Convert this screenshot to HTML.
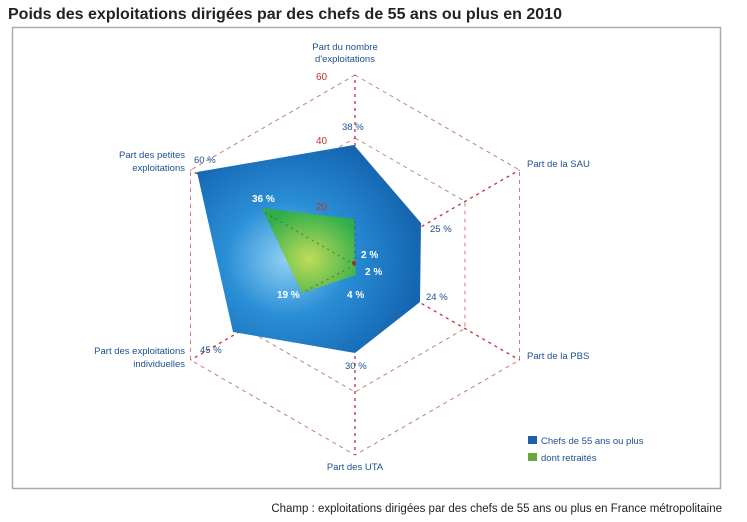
<!DOCTYPE html>
<html><head><meta charset="utf-8"><style>
html,body{margin:0;padding:0;background:#fff;width:747px;height:522px;overflow:hidden}
</style></head><body>
<svg width="747" height="522" viewBox="0 0 747 522" xmlns="http://www.w3.org/2000/svg" font-family="Liberation Sans, sans-serif">
<defs>
<radialGradient id="bg" cx="0.4" cy="0.55" r="0.6">
<stop offset="0" stop-color="#8fd0f4"/><stop offset="0.45" stop-color="#2a8fd6"/><stop offset="1" stop-color="#1565b0"/>
</radialGradient>
<radialGradient id="gg" cx="0.5" cy="0.6" r="0.6">
<stop offset="0" stop-color="#c0dc5a"/><stop offset="1" stop-color="#2fae4a"/>
</radialGradient>
</defs>
<text x="8" y="19" font-size="16" font-weight="bold" fill="#222">Poids des exploitations dirigées par des chefs de 55 ans ou plus en 2010</text>
<rect x="12.5" y="27.5" width="708" height="461" fill="#fff" stroke="#aaa" stroke-width="1.5"/>
<g fill="none" stroke="#c08080" stroke-width="1" stroke-dasharray="4,4">
<polygon points="355,75 519.5,170 519.5,360 355,455 190.5,360 190.5,170"/>
<polygon points="355,138 465,201.5 465,328.5 355,392 245,328.5 245,201.5"/>
<polygon points="355,202 409.5,233.5 409.5,296.5 355,328 300.5,296.5 300.5,233.5"/>
</g>
<g stroke="#c0303a" stroke-width="1.3" stroke-dasharray="3,4" fill="none">
<line x1="355" y1="265" x2="355" y2="75"/><line x1="355" y1="265" x2="519.5" y2="170"/>
<line x1="355" y1="265" x2="519.5" y2="360"/><line x1="355" y1="265" x2="355" y2="455"/>
<line x1="355" y1="265" x2="190.5" y2="360"/><line x1="355" y1="265" x2="190.5" y2="170"/>
</g>
<polygon points="197,172 354,145 421,223 420,302 355,353 233,332" fill="url(#bg)"/>
<polygon points="262,208 354,219 355,262 356,275 302,293" fill="url(#gg)"/>
<g stroke="#7a3a30" stroke-width="1.3" stroke-dasharray="2,4" fill="none" opacity="0.6">
<line x1="355" y1="265" x2="355" y2="219"/><line x1="355" y1="265" x2="262" y2="211"/>
<line x1="355" y1="265" x2="302" y2="293"/>
</g>
<g font-size="10" fill="#c0303a" font-family="Liberation Sans Narrow, Liberation Sans, sans-serif">
<text x="316" y="80">60</text><text x="316" y="144">40</text><text x="316" y="210">20</text>
</g>
<g font-size="9.5" fill="#1e4f90" font-family="Liberation Sans Narrow, Liberation Sans, sans-serif">
<text x="345" y="50" text-anchor="middle">Part du nombre</text>
<text x="345" y="62" text-anchor="middle">d'exploitations</text>
<text x="527" y="167">Part de la SAU</text>
<text x="527" y="359">Part de la PBS</text>
<text x="355" y="470" text-anchor="middle">Part des UTA</text>
<text x="185" y="158" text-anchor="end">Part des petites</text>
<text x="185" y="171" text-anchor="end">exploitations</text>
<text x="185" y="354" text-anchor="end">Part des exploitations</text>
<text x="185" y="367" text-anchor="end">individuelles</text>
<text x="194" y="163">60 %</text><text x="342" y="130">38 %</text>
<text x="430" y="232">25 %</text><text x="426" y="300">24 %</text>
<text x="345" y="369">30 %</text><text x="200" y="353">45 %</text>
<text x="541" y="444">Chefs de 55 ans ou plus</text>
<text x="541" y="461">dont retraités</text>
</g>
<rect x="528" y="436" width="9" height="8" fill="#1e5fa8"/>
<rect x="528" y="453" width="9" height="8" fill="#6aa63a"/>
<g font-size="10" font-weight="bold" fill="#fff">
<text x="252" y="202">36 %</text><text x="361" y="258">2 %</text><text x="365" y="275">2 %</text>
<text x="277" y="298">19 %</text><text x="347" y="298">4 %</text>
</g>
<circle cx="354" cy="263" r="2" fill="#a03030"/>
<text x="722" y="512" font-size="11.5" fill="#222" text-anchor="end">Champ : exploitations dirigées par des chefs de 55 ans ou plus en France métropolitaine</text>
</svg>
</body></html>
